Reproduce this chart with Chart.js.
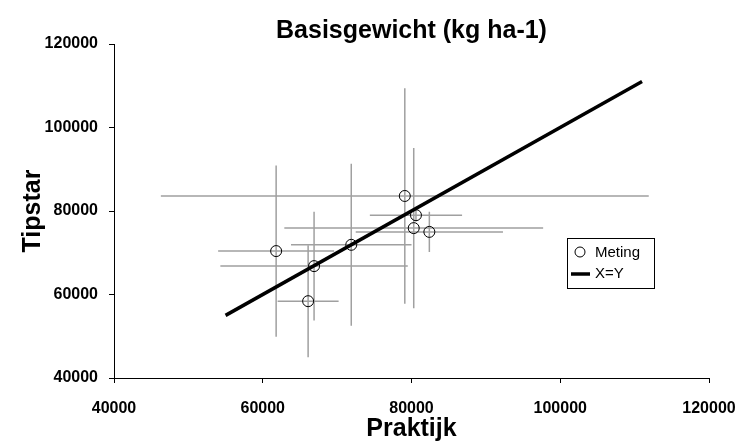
<!DOCTYPE html>
<html>
<head>
<meta charset="utf-8">
<title>Basisgewicht</title>
<script src="https://cdn.jsdelivr.net/npm/chart.js@4.4.1/dist/chart.umd.min.js"></script>
<style>
  body { margin: 0; background: #fff; }
  #wrap { width: 742px; height: 446px; }
</style>
</head>
<body>
<div id="wrap"><canvas id="myChart"></canvas></div>
<script>
// metingen: praktijk (x) tegen tipstar (y), met standaardafwijking
var praktijk     = [61800, 66100, 66900, 71900, 79100, 80600, 80300, 82400];
var tipstar      = [70400, 58400, 66800, 71900, 83600, 79000, 75900, 75000];
var praktijkFout = [7800, 4100, 12600, 8100, 32800, 6200, 17400, 9900];
var tipstarFout  = [20500, 13400, 13000, 19400, 25800, 1500, 19200, 4800];

// 1:1 lijn
var lijnX = [55000, 111000];
var lijnY = [55000, 111000];

var asTicks = [40000, 60000, 80000, 100000, 120000];

var fontFam = "'Liberation Sans', Arial, sans-serif";

var punten = praktijk.map(function(x, i){ return {x: x, y: tipstar[i]}; });
var lijn = lijnX.map(function(x, i){ return {x: x, y: lijnY[i]}; });

// foutbalken achter de punten tekenen
var errorBars = {
    id: 'errorBars',
    beforeDatasetsDraw: function(chart){
        var ctx = chart.ctx;
        var sx = chart.scales.x, sy = chart.scales.y;
        ctx.save();
        ctx.strokeStyle = '#a0a0a0';
        ctx.lineWidth = 1.5;
        for (var i = 0; i < praktijk.length; i++){
            var px = sx.getPixelForValue(praktijk[i]);
            var py = sy.getPixelForValue(tipstar[i]);
            ctx.beginPath();
            ctx.moveTo(sx.getPixelForValue(praktijk[i] - praktijkFout[i]), py);
            ctx.lineTo(sx.getPixelForValue(praktijk[i] + praktijkFout[i]), py);
            ctx.moveTo(px, sy.getPixelForValue(tipstar[i] - tipstarFout[i]));
            ctx.lineTo(px, sy.getPixelForValue(tipstar[i] + tipstarFout[i]));
            ctx.stroke();
        }
        ctx.restore();
    }
};

// legenda met kader binnen de grafiek
var boxLegend = {
    id: 'boxLegend',
    afterDraw: function(chart){
        var ctx = chart.ctx;
        var left = 567, top = 238, w = 87, h = 50;
        ctx.save();
        ctx.fillStyle = '#fff';
        ctx.fillRect(left, top, w, h);
        ctx.strokeStyle = '#000';
        ctx.lineWidth = 1;
        ctx.strokeRect(left + 0.5, top + 0.5, w, h);

        ctx.font = '15px ' + fontFam;
        ctx.fillStyle = '#000';
        ctx.textBaseline = 'middle';

        var ds = chart.data.datasets;
        // rij 1: cirkel
        ctx.beginPath();
        ctx.arc(left + 13, top + 14, 5, 0, Math.PI * 2);
        ctx.lineWidth = 1;
        ctx.stroke();
        ctx.fillText(ds[0].label, left + 28, top + 15);
        // rij 2: lijn
        ctx.beginPath();
        ctx.moveTo(left + 4, top + 36);
        ctx.lineTo(left + 23, top + 36);
        ctx.lineWidth = 3.5;
        ctx.stroke();
        ctx.fillText(ds[1].label, left + 28, top + 36);
        ctx.restore();
    }
};

var myChart = document.getElementById('myChart').getContext('2d');

var scatterChart = new Chart(myChart, {
    type: 'scatter',
    data: {
        datasets: [{
            label: 'Meting',
            data: punten,
            pointRadius: 5.5,
            pointHoverRadius: 5.5,
            borderColor: '#000',
            borderWidth: 1,
            backgroundColor: 'rgba(0,0,0,0)',
            order: 1
        }, {
            label: 'X=Y',
            type: 'line',
            data: lijn,
            borderColor: '#000',
            borderWidth: 3.5,
            pointRadius: 0,
            fill: false,
            order: 0
        }]
    },
    options: {
        responsive: true,
        maintainAspectRatio: false,
        animation: false,
        layout: { padding: { left: 0, right: 33, top: 0, bottom: 0 } },
        plugins: {
            legend: { display: false },
            tooltip: { enabled: false },
            title: {
                display: true,
                text: 'Basisgewicht (kg ha-1)',
                fullSize: false,
                color: '#000',
                font: { family: fontFam, size: 25, weight: 'bold', lineHeight: 1 },
                padding: { top: 18.5, bottom: 0.5 }
            }
        },
        scales: {
            x: {
                type: 'linear',
                min: 40000,
                max: 120000,
                afterBuildTicks: function(axis){ axis.ticks = asTicks.map(function(v){ return {value: v}; }); },
                afterFit: function(axis){
                    axis.height = 68;
                    axis.paddingLeft = 0;
                    axis.paddingRight = 0;
                },
                grid: { drawOnChartArea: false, drawTicks: true, tickLength: 5, color: '#000' },
                border: { display: true, color: '#000', width: 1 },
                ticks: {
                    color: '#000',
                    padding: 16,
                    maxRotation: 0,
                    font: { family: fontFam, size: 16, weight: 'bold' },
                    callback: function(v){ return String(v); }
                },
                title: {
                    display: true,
                    text: 'Praktijk',
                    color: '#000',
                    font: { family: fontFam, size: 25, weight: 'bold' },
                    padding: { top: 0, bottom: 2 }
                }
            },
            y: {
                type: 'linear',
                min: 40000,
                max: 120000,
                afterBuildTicks: function(axis){ axis.ticks = asTicks.map(function(v){ return {value: v}; }); },
                afterFit: function(axis){
                    axis.width = 114;
                    axis.paddingTop = 0;
                    axis.paddingBottom = 0;
                },
                grid: { drawOnChartArea: false, drawTicks: true, tickLength: 5, color: '#000' },
                border: { display: true, color: '#000', width: 1 },
                ticks: {
                    color: '#000',
                    padding: 11,
                    font: { family: fontFam, size: 16, weight: 'bold' },
                    callback: function(v){ return String(v); }
                },
                title: {
                    display: true,
                    text: 'Tipstar',
                    color: '#000',
                    font: { family: fontFam, size: 25, weight: 'bold' },
                    padding: { top: 18, bottom: 0 }
                }
            }
        }
    },
    plugins: [errorBars, boxLegend]
});
</script>
</body>
</html>
